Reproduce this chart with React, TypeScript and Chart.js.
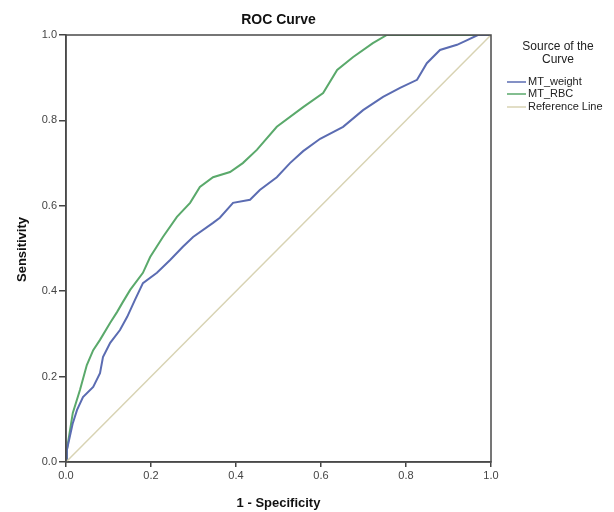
import React, { useEffect, useRef } from "react";
import { Chart, registerables } from "chart.js";

Chart.register(...registerables);

// ----- data -----
const chartTitle = "ROC Curve";
const xAxisTitle = "1 - Specificity";
const yAxisTitle = "Sensitivity";
const legendTitle = ["Source of the", "Curve"];
const seriesNames = ["MT_weight", "MT_RBC", "Reference Line"];
const axisTicks = [0, 0.2, 0.4, 0.6, 0.8, 1.0];

const weightFpr = [0, 0.002, 0.016, 0.026, 0.04, 0.064, 0.08, 0.087, 0.104, 0.127, 0.144, 0.162, 0.181, 0.214, 0.245, 0.275, 0.299, 0.346, 0.362, 0.393, 0.433, 0.456, 0.496, 0.527, 0.558, 0.598, 0.652, 0.699, 0.746, 0.786, 0.826, 0.849, 0.88, 0.92, 0.944, 0.969, 1.0];
const weightTpr = [0, 0.028, 0.091, 0.122, 0.152, 0.176, 0.208, 0.246, 0.279, 0.309, 0.34, 0.379, 0.419, 0.443, 0.473, 0.504, 0.527, 0.56, 0.572, 0.607, 0.614, 0.637, 0.667, 0.7, 0.728, 0.757, 0.785, 0.824, 0.855, 0.876, 0.895, 0.934, 0.965, 0.977, 0.988, 1.0, 1.0];

const rbcFpr = [0, 0.002, 0.016, 0.033, 0.049, 0.064, 0.08, 0.104, 0.12, 0.134, 0.151, 0.181, 0.198, 0.228, 0.261, 0.292, 0.315, 0.346, 0.386, 0.416, 0.449, 0.496, 0.558, 0.605, 0.638, 0.675, 0.722, 0.755, 1.0];
const rbcTpr = [0, 0.028, 0.115, 0.169, 0.227, 0.262, 0.286, 0.326, 0.351, 0.375, 0.403, 0.443, 0.48, 0.527, 0.574, 0.607, 0.644, 0.667, 0.679, 0.7, 0.731, 0.785, 0.831, 0.864, 0.918, 0.948, 0.981, 1.0, 1.0];

const refFpr = [0, 1];
const refTpr = [0, 1];

const colors = ["#5b6cb2", "#5aa96b", "#d8d3b3"];
const FONT = "'Liberation Sans', Arial, sans-serif";

const toPts = (xs: number[], ys: number[]) => xs.map((x, i) => ({ x, y: ys[i] }));

const decorPlugin = {
  id: "decor",
  afterDraw(chart: any) {
    const { ctx, chartArea } = chart;
    const { left, right, top, bottom } = chartArea;
    ctx.save();
    // frame
    ctx.strokeStyle = "#4a4a4a";
    ctx.lineWidth = 1.5;
    ctx.strokeRect(left, top, right - left, bottom - top);

    ctx.fillStyle = "#111";
    ctx.textAlign = "center";
    ctx.textBaseline = "middle";
    // title
    ctx.font = `bold 14px ${FONT}`;
    ctx.fillText(chartTitle, (left + right) / 2, 20);
    // x title
    ctx.font = `bold 13px ${FONT}`;
    ctx.fillText(xAxisTitle, (left + right) / 2, 503);
    // y title
    ctx.save();
    ctx.translate(22, (top + bottom) / 2 + 1);
    ctx.rotate(-Math.PI / 2);
    ctx.fillText(yAxisTitle, 0, 0);
    ctx.restore();

    // legend
    ctx.fillStyle = "#222";
    ctx.font = `12px ${FONT}`;
    ctx.fillText(legendTitle[0], 558, 47);
    ctx.fillText(legendTitle[1], 558, 60);
    ctx.textAlign = "left";
    ctx.font = `11px ${FONT}`;
    const ys = [82, 94, 107];
    seriesNames.forEach((n, i) => {
      ctx.strokeStyle = colors[i];
      ctx.lineWidth = 1.5;
      ctx.beginPath();
      ctx.moveTo(507, ys[i]);
      ctx.lineTo(526, ys[i]);
      ctx.stroke();
      ctx.fillText(n, 528, ys[i]);
    });
    ctx.restore();
  },
};

export default function App() {
  const ref = useRef<HTMLCanvasElement | null>(null);
  useEffect(() => {
    if (!ref.current) return;
    const tickFont = { family: FONT, size: 11 };
    const chart = new Chart(ref.current, {
      type: "scatter",
      data: {
        datasets: [
          {
            label: seriesNames[2],
            data: toPts(refFpr, refTpr),
            showLine: true,
            borderColor: colors[2],
            borderWidth: 1.5,
            pointRadius: 0,
          },
          {
            label: seriesNames[0],
            data: toPts(weightFpr, weightTpr),
            showLine: true,
            borderColor: colors[0],
            borderWidth: 2,
            pointRadius: 0,
          },
          {
            label: seriesNames[1],
            data: toPts(rbcFpr, rbcTpr),
            showLine: true,
            borderColor: colors[1],
            borderWidth: 2,
            pointRadius: 0,
          },
        ],
      },
      options: {
        responsive: false,
        animation: false,
        layout: { padding: { left: 0, top: 35, right: 123, bottom: 0 } },
        plugins: { legend: { display: false }, title: { display: false }, tooltip: { enabled: false } },
        scales: {
          x: {
            type: "linear",
            min: 0,
            max: 1,
            afterFit: (s: any) => { s.height = 50; },
            afterBuildTicks: (s: any) => { s.ticks = axisTicks.map((v) => ({ value: v })); },
            ticks: { font: tickFont, color: "#444", padding: 2, callback: (v: any) => Number(v).toFixed(1) },
            grid: { drawOnChartArea: false, drawTicks: true, tickLength: 5, color: "#444", lineWidth: 1.5 },
            border: { display: true, color: "#4a4a4a", width: 1.5 },
          },
          y: {
            type: "linear",
            min: 0,
            max: 1,
            afterFit: (s: any) => { s.width = 66; },
            afterBuildTicks: (s: any) => { s.ticks = axisTicks.map((v) => ({ value: v })); },
            ticks: { font: tickFont, color: "#444", padding: 2, callback: (v: any) => Number(v).toFixed(1) },
            grid: { drawOnChartArea: false, drawTicks: true, tickLength: 7, color: "#444", lineWidth: 1.5 },
            border: { display: true, color: "#4a4a4a", width: 1.5 },
          },
        },
      } as any,
      plugins: [decorPlugin],
    });
    return () => chart.destroy();
  }, []);
  return (
    <div style={{ position: "fixed", left: 0, top: 0, width: 614, height: 512, background: "#fff" }}>
      <canvas ref={ref} width={614} height={512} />
    </div>
  );
}
